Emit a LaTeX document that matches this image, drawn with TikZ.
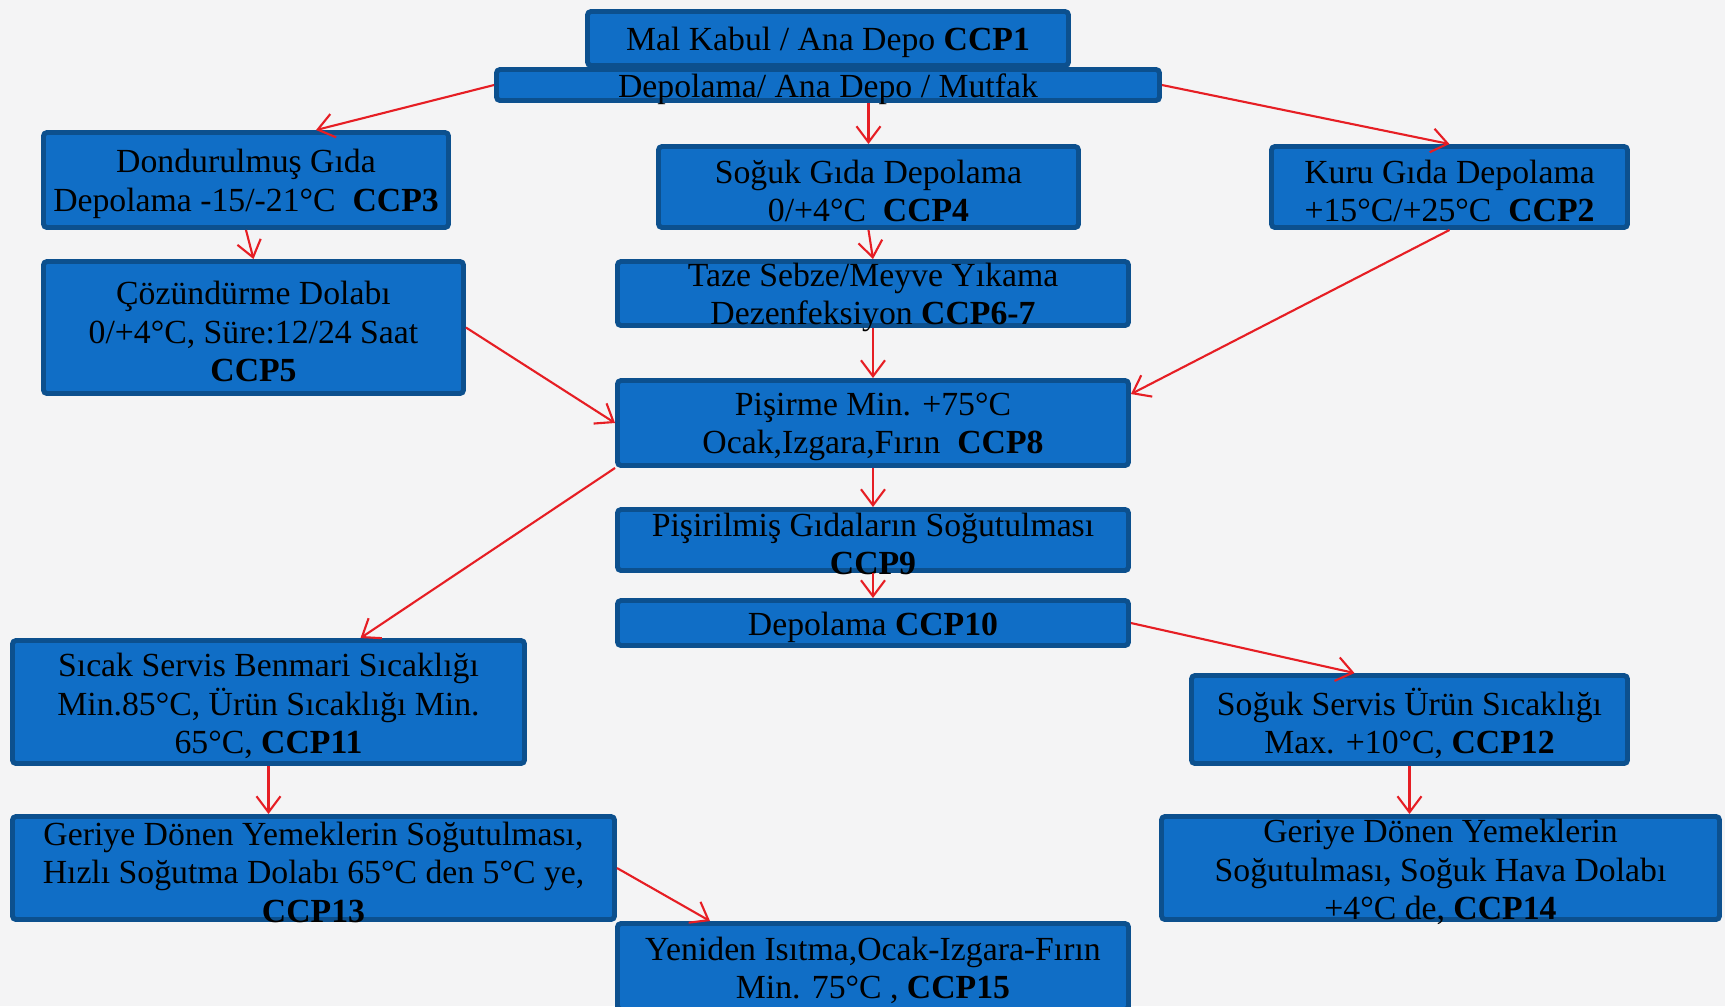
\documentclass[tikz,border=0pt]{standalone}
\usepackage{fontspec}
\setmainfont{Liberation Serif}
\usetikzlibrary{arrows.meta,positioning,calc}
\definecolor{boxblue}{RGB}{16,110,198}
\definecolor{boxedge}{RGB}{12,80,142}
\definecolor{flowred}{RGB}{230,30,36}
\definecolor{paper}{RGB}{244,244,245}

\begin{document}
\begin{tikzpicture}[
  x=1cm, y=-1cm,
  stage/.style={draw=boxedge, fill=boxblue, line width=1.4pt, rounded corners=1pt, inner sep=0pt},
  txt/.style={align=center, inner sep=0pt, yshift=-0.4mm, font=\fontsize{9.6}{10.95}\selectfont},
  flow/.style={-{Straight Barb[length=1.6mm,width=2.4mm]}, draw=flowred, line width=0.6pt},
]
\clip (0,0) rectangle (17.25,10.06);
\fill[paper] (0,0) rectangle (17.25,10.06);

% boxes
\node[stage, minimum width=4.81cm, minimum height=0.54cm] (kabul) at (8.28,0.385) {};
\node[stage, minimum width=6.63cm, minimum height=0.31cm] (dep) at (8.28,0.85) {};
\node[stage, minimum width=4.05cm, minimum height=0.95cm] (dond) at (2.46,1.80) {};
\node[stage, minimum width=4.20cm, minimum height=0.81cm] (soguk) at (8.685,1.87) {};
\node[stage, minimum width=3.56cm, minimum height=0.81cm] (kuru) at (14.495,1.87) {};
\node[stage, minimum width=4.20cm, minimum height=1.32cm] (coz) at (2.535,3.275) {};
\node[stage, minimum width=5.11cm, minimum height=0.64cm] (taze) at (8.73,2.935) {};
\node[stage, minimum width=5.11cm, minimum height=0.85cm] (pis) at (8.73,4.23) {};
\node[stage, minimum width=5.11cm, minimum height=0.61cm] (pisl) at (8.73,5.40) {};
\node[stage, minimum width=5.11cm, minimum height=0.45cm] (dep10) at (8.73,6.23) {};
\node[stage, minimum width=5.12cm, minimum height=1.23cm] (sicak) at (2.685,7.02) {};
\node[stage, minimum width=4.36cm, minimum height=0.88cm] (sserv) at (14.095,7.195) {};
\node[stage, minimum width=6.02cm, minimum height=1.03cm] (geriL) at (3.135,8.68) {};
\node[stage, minimum width=5.58cm, minimum height=1.03cm] (geriR) at (14.405,8.68) {};
\node[stage, minimum width=5.11cm, minimum height=0.86cm] (yen) at (8.73,9.665) {};

% texts
\node[txt] at (kabul) {Mal Kabul / Ana Depo \textbf{CCP1}};
\node[txt] at (dep) {Depolama/ Ana Depo / Mutfak};
\node[txt] at (dond) {Dondurulmuş Gıda\\Depolama -15/-21°C\ \ \textbf{CCP3}};
\node[txt] at (soguk) {Soğuk Gıda Depolama\\0/+4°C\ \ \textbf{CCP4}};
\node[txt] at (kuru) {Kuru Gıda Depolama\\+15°C/+25°C\ \ \textbf{CCP2}};
\node[txt] at (coz) {Çözündürme Dolabı\\0/+4°C, Süre:12/24 Saat\\\textbf{CCP5}};
\node[txt] at (taze) {Taze Sebze/Meyve Yıkama\\Dezenfeksiyon \textbf{CCP6-7}};
\node[txt] at (pis) {Pişirme Min. +75°C\\Ocak,Izgara,Fırın\ \ \textbf{CCP8}};
\node[txt] at (pisl) {Pişirilmiş Gıdaların Soğutulması\\\textbf{CCP9}};
\node[txt] at (dep10) {Depolama \textbf{CCP10}};
\node[txt] at (sicak) {Sıcak Servis Benmari Sıcaklığı\\Min.85°C, Ürün Sıcaklığı Min.\\65°C, \textbf{CCP11}};
\node[txt] at (sserv) {Soğuk Servis Ürün Sıcaklığı\\Max. +10°C, \textbf{CCP12}};
\node[txt] at (geriL) {Geriye Dönen Yemeklerin Soğutulması,\\Hızlı Soğutma Dolabı 65°C den 5°C ye,\\\textbf{CCP13}};
\node[txt] at (geriR) {Geriye Dönen Yemeklerin\\Soğutulması, Soğuk Hava Dolabı\\+4°C de, \textbf{CCP14}};
\node[txt] at (yen) {Yeniden Isıtma,Ocak-Izgara-Fırın\\Min. 75°C , \textbf{CCP15}};

% flow
\draw[flow] (dep.west) -- ([xshift=7mm]dond.north);
\draw[flow] (soguk.north |- dep.south) -- (soguk.north);
\draw[flow] (dep.east) -- (kuru.north);
\draw[flow] (dond.south) -- (coz.north);
\draw[flow] (soguk.south) -- (taze.north);
\draw[flow] (taze.south) -- (pis.north);
\draw[flow] (kuru.south) -- ([yshift=-1.6mm]pis.north east);
\draw[flow] (coz.east) -- (pis.west);
\draw[flow] (pis.south) -- (pisl.north);
\draw[flow] (pis.south west) -- ([xshift=9.2mm]sicak.north);
\draw[flow] (pisl.south) -- (dep10.north);
\draw[flow] (dep10.east) -- ([xshift=-5.5mm]sserv.north);
\draw[flow] (sicak.south) -- (sicak.south |- geriL.north);
\draw[flow] (sserv.south) -- (sserv.south |- geriR.north);
\draw[flow] (geriL.east) -- ([xshift=-16.3mm]yen.north);
\end{tikzpicture}
\end{document}
